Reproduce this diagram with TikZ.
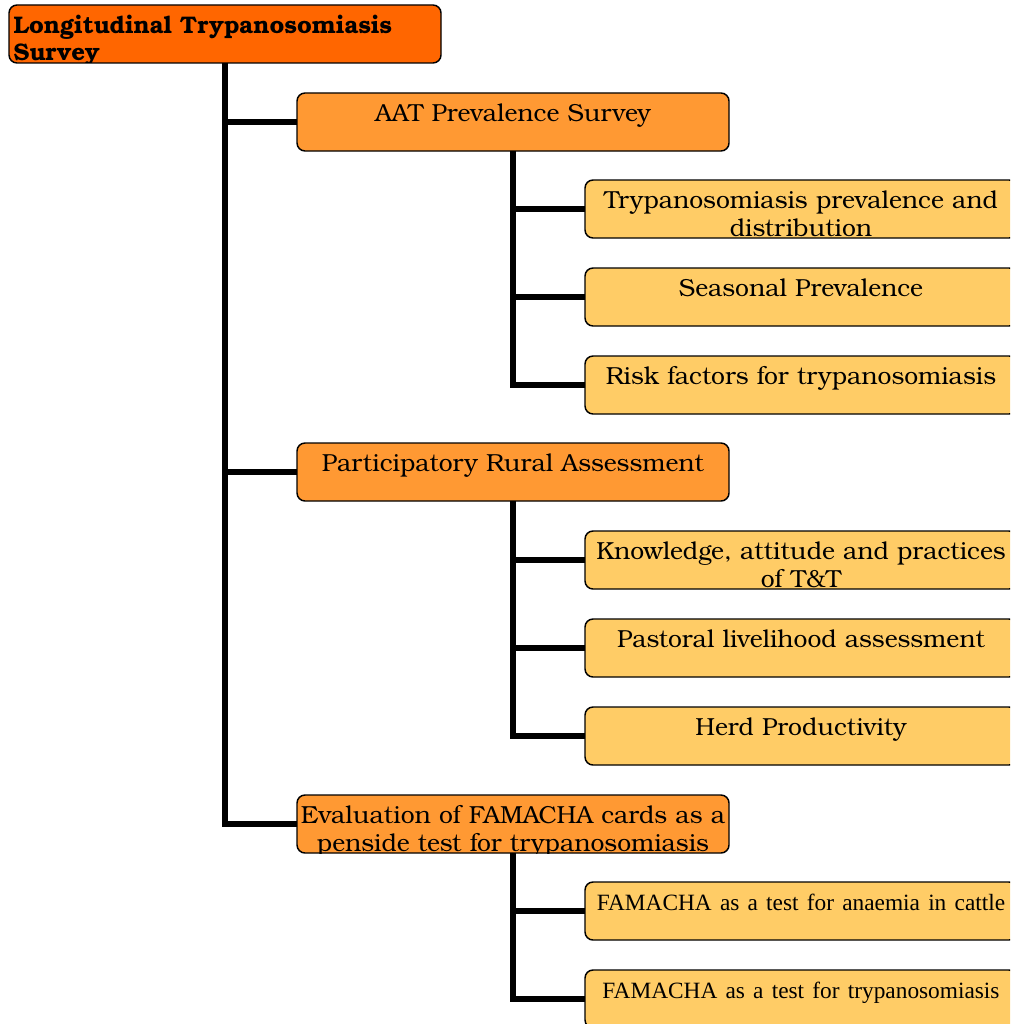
\documentclass[tikz,border=0pt]{standalone}
\usepackage{fontspec}
\setmainfont{TeX Gyre Bonum}
\newfontfamily\timesfont{Liberation Serif}
\definecolor{rootorange}{RGB}{255,102,0}
\definecolor{mainorange}{RGB}{255,153,51}
\definecolor{subyellow}{RGB}{255,204,102}
\tikzset{
  box/.style={draw=black, line width=1.1pt, rounded corners=6pt,
    minimum width=324pt, minimum height=43.5pt, inner sep=0pt,
    outer sep=0pt, anchor=north west},
  rootbox/.style={box, fill=rootorange},
  mainbox/.style={box, fill=mainorange},
  subbox/.style={box, fill=subyellow},
  boxtext/.style={path picture={\node[anchor=base, text width=340pt,
      align=center, inner sep=0pt, font=\fontsize{18.5}{21}\selectfont]
      at ([yshift=-21pt]path picture bounding box.north) {#1};}},
  roottext/.style={path picture={\node[anchor=base west, text width=320pt,
      align=left, inner sep=0pt, font=\bfseries\fontsize{18}{20.25}\selectfont]
      at ([xshift=1.5pt,yshift=-21.5pt]path picture bounding box.north west) {#1};}},
  link/.style={line width=3.8pt}
}
\newcommand\tnr[1]{\mbox{\timesfont\fontsize{17.5}{21}\selectfont #1}}
\begin{document}
\begin{tikzpicture}[x=0.75pt,y=-0.75pt]
    \clip (0,0) rectangle (1010,1024);
    % root
    \node[rootbox, roottext={Longitudinal Trypanosomiasis\\Survey}] (root) at (9,5) {};
    % first level
    \node[mainbox, boxtext={AAT Prevalence Survey}] (aat) at (297,93) {};
    \node[mainbox, boxtext={Participatory Rural Assessment}] (pra) at (297,443) {};
    \node[mainbox, boxtext={Evaluation of FAMACHA cards as a\\penside test for trypanosomiasis}] (fam) at (297,795) {};
    % second level
    \node[subbox, boxtext={Trypanosomiasis prevalence and\\distribution}] (dist) at (585,180) {};
    \node[subbox, boxtext={Seasonal Prevalence}] (season) at (585,268) {};
    \node[subbox, boxtext={Risk factors for trypanosomiasis}] (risk) at (585,356) {};
    \node[subbox, boxtext={Knowledge, attitude and practices\\of T\&T}] (kap) at (585,531) {};
    \node[subbox, boxtext={Pastoral livelihood assessment}] (live) at (585,619) {};
    \node[subbox, boxtext={Herd Productivity}] (herd) at (585,707) {};
    \node[subbox, boxtext={\tnr{FAMACHA as a test for anaemia in cattle}}] (anaemia) at (585,882) {};
    \node[subbox, boxtext={\tnr{FAMACHA as a test for trypanosomiasis}}] (trypa) at (585,970) {};
    % connectors
    \foreach \child in {aat,pra,fam}
        \draw[link] (root.south) |- (\child.west);
    \foreach \child in {dist,season,risk}
        \draw[link] (aat.south) |- (\child.west);
    \foreach \child in {kap,live,herd}
        \draw[link] (pra.south) |- (\child.west);
    \foreach \child in {anaemia,trypa}
        \draw[link] (fam.south) |- (\child.west);
\end{tikzpicture}
\end{document}
